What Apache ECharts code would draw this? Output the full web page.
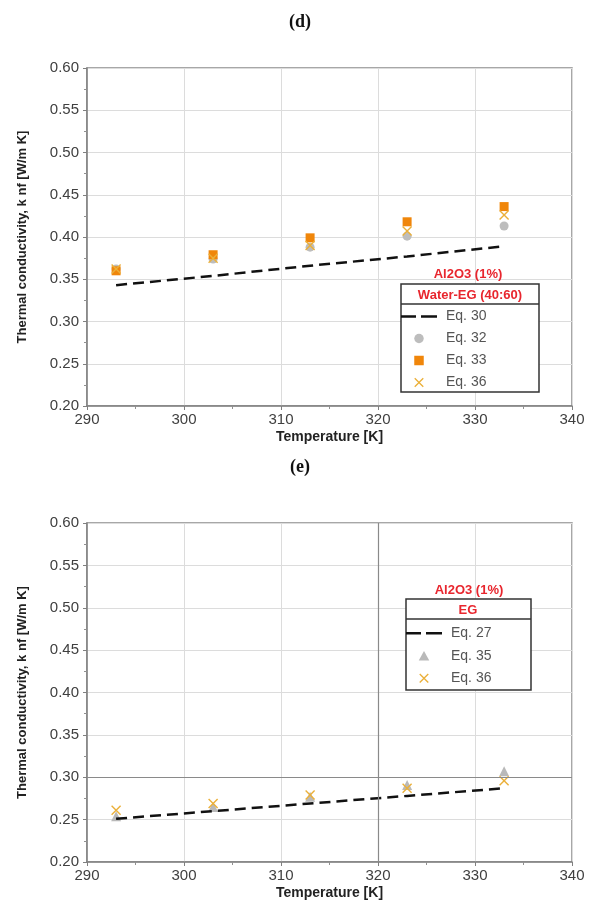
<!DOCTYPE html>
<html><head><meta charset="utf-8">
<script src="https://cdn.jsdelivr.net/npm/echarts@6/dist/echarts.min.js"></script>
<style>html,body{margin:0;padding:0;background:#fff;}#c{width:589px;height:911px;}</style>
</head><body><div id="c"></div>
<script>
// ---- data ----
const temperatures = [293, 303, 313, 323, 333];
const xTicks = [290, 300, 310, 320, 330, 340];
const yTicks = [0.20, 0.25, 0.30, 0.35, 0.40, 0.45, 0.50, 0.55, 0.60];
// (d) Water-EG (40:60)
const d_eq30 = [0.343, 0.354, 0.366, 0.377, 0.389];
const d_eq32 = [0.362, 0.374, 0.388, 0.401, 0.413];
const d_eq33 = [0.360, 0.379, 0.399, 0.418, 0.436];
const d_eq36 = [0.362, 0.375, 0.390, 0.407, 0.426];
// (e) EG
const e_eq27 = [0.251, 0.260, 0.269, 0.278, 0.287];
const e_eq35 = [0.254, 0.265, 0.277, 0.291, 0.307];
const e_eq36 = [0.261, 0.269, 0.279, 0.287, 0.296];

const pair = arr => temperatures.map((t, i) => [t, arr[i]]);
const X_PATH = 'path://M0,1 L1,0 L5,4 L9,0 L10,1 L6,5 L10,9 L9,10 L5,6 L1,10 L0,9 L4,5 Z';
const SQ_PATH = 'path://M0,0 L10,0 L10,10 L0,10 Z';
const TRI_PATH = 'path://M5,0 L10,9 L0,9 Z';
const DASH_PATH = 'path://M0,0 L15,0 L15,2.6 L0,2.6 Z M20,0 L36,0 L36,2.6 L20,2.6 Z';
const FONT = 'Liberation Sans, Arial, sans-serif';
const RED = '#e8262e';
const ORANGE = '#f0860a';
const GOLD = '#ebb03a';
const GRAY = '#bdbdbd';

function xAxisCfg(gi) {
  return {
    gridIndex: gi, type: 'value', min: xTicks[0], max: xTicks[xTicks.length - 1], interval: 10,
    name: 'Temperature [K]', nameLocation: 'middle', nameGap: 24,
    nameTextStyle: { fontFamily: FONT, fontWeight: 'bold', fontSize: 14, color: '#222' },
    axisLine: { show: true, onZero: false, lineStyle: { color: '#808080', width: 1.5 } },
    axisTick: { show: true, inside: false, length: 4, lineStyle: { color: '#808080' } },
    minorTick: { show: true, splitNumber: 2, length: 3, lineStyle: { color: '#909090' } },
    axisLabel: { fontFamily: FONT, fontSize: 15, color: '#404040', margin: 6 },
    splitLine: { show: true, lineStyle: { color: '#dcdcdc', width: 1 } }
  };
}
function yAxisCfg(gi) {
  return {
    gridIndex: gi, type: 'value', min: 0.2, max: 0.6, interval: 0.05,
    name: 'Thermal conductivity, k nf [W/m K]', nameLocation: 'middle', nameGap: 58,
    nameTextStyle: { fontFamily: FONT, fontWeight: 'bold', fontSize: 13, color: '#222' },
    axisLine: { show: true, onZero: false, lineStyle: { color: '#808080', width: 1.5 } },
    axisTick: { show: true, inside: false, length: 4, lineStyle: { color: '#808080' } },
    minorTick: { show: true, splitNumber: 2, length: 3, lineStyle: { color: '#909090' } },
    axisLabel: { fontFamily: FONT, fontSize: 15, color: '#404040', margin: 8,
      formatter: v => v.toFixed(2) },
    splitLine: { show: true, lineStyle: { color: '#dcdcdc', width: 1 } }
  };
}
const dashStyle = { color: '#111', width: 2.5, type: [11, 6] };
const legendText = (lh) => ({ fontFamily: FONT, fontSize: 14, color: '#555', lineHeight: lh, padding: [0, 0, 0, 4] });

const chart = echarts.init(document.getElementById('c'), null, { renderer: 'canvas' });
chart.setOption({
  animation: false,
  backgroundColor: '#fff',
  grid: [
    { left: 87, right: 17, top: 68, height: 338, show: true, borderColor: '#8a8a8a', borderWidth: 1.5 },
    { left: 87, right: 17, top: 523, height: 339, show: true, borderColor: '#8a8a8a', borderWidth: 1.5 }
  ],
  xAxis: [xAxisCfg(0), xAxisCfg(1)],
  yAxis: [yAxisCfg(0), yAxisCfg(1)],
  legend: [
    {
      data: [
        { name: 'Eq. 30', icon: DASH_PATH, itemStyle: { color: '#111' } },
        { name: 'Eq. 32', icon: 'circle' },
        { name: 'Eq. 33', icon: SQ_PATH },
        { name: 'Eq. 36', icon: X_PATH }
      ],
      orient: 'vertical', left: 401, top: 305.5, padding: 0, itemWidth: 36, itemHeight: 9.5, itemGap: 0,
      textStyle: legendText(22), selectedMode: false
    },
    {
      data: [
        { name: 'Eq. 27', icon: DASH_PATH, itemStyle: { color: '#111' } },
        { name: 'Eq. 35', icon: TRI_PATH },
        { name: 'Eq. 36', icon: X_PATH }
      ],
      orient: 'vertical', left: 406, top: 622, padding: 0, itemWidth: 36, itemHeight: 9.5, itemGap: 0,
      textStyle: legendText(22.5), selectedMode: false
    }
  ],
  graphic: [
    { type: 'text', x: 300, y: 22, z: 5, style: { text: '(d)', fill: '#111', font: 'bold 18px Liberation Serif, serif', align: 'center', verticalAlign: 'middle' } },
    { type: 'text', x: 300, y: 467, z: 5, style: { text: '(e)', fill: '#111', font: 'bold 18px Liberation Serif, serif', align: 'center', verticalAlign: 'middle' } },
    { type: 'rect', shape: { x: 401, y: 284, width: 138, height: 108 }, style: { fill: '#fff', stroke: '#333', lineWidth: 1.5 }, z: 3 },
    { type: 'line', shape: { x1: 401, y1: 304, x2: 539, y2: 304 }, style: { stroke: '#333', lineWidth: 1.5 }, z: 4 },
    { type: 'text', x: 470, y: 295, z: 5, style: { text: 'Water-EG (40:60)', fill: RED, font: 'bold 13px ' + FONT, align: 'center', verticalAlign: 'middle' } },
    { type: 'text', x: 468, y: 274, z: 5, style: { text: 'Al2O3 (1%)', fill: RED, font: 'bold 13px ' + FONT, align: 'center', verticalAlign: 'middle' } },
    { type: 'rect', shape: { x: 406, y: 599, width: 125, height: 91 }, style: { fill: '#fff', stroke: '#333', lineWidth: 1.5 }, z: 3 },
    { type: 'line', shape: { x1: 406, y1: 619, x2: 531, y2: 619 }, style: { stroke: '#333', lineWidth: 1.5 }, z: 4 },
    { type: 'text', x: 468, y: 610, z: 5, style: { text: 'EG', fill: RED, font: 'bold 13px ' + FONT, align: 'center', verticalAlign: 'middle' } },
    { type: 'text', x: 469, y: 590, z: 5, style: { text: 'Al2O3 (1%)', fill: RED, font: 'bold 13px ' + FONT, align: 'center', verticalAlign: 'middle' } }
  ],
  series: [
    { name: 'Eq. 30', type: 'line', xAxisIndex: 0, yAxisIndex: 0, data: pair(d_eq30), symbol: 'none', lineStyle: dashStyle, itemStyle: { color: '#111' } },
    { name: 'Eq. 32', type: 'scatter', xAxisIndex: 0, yAxisIndex: 0, data: pair(d_eq32), symbol: 'circle', symbolSize: 9, itemStyle: { color: GRAY, opacity: 1 } },
    { name: 'Eq. 33', type: 'scatter', xAxisIndex: 0, yAxisIndex: 0, data: pair(d_eq33), symbol: 'rect', symbolSize: 9, itemStyle: { color: ORANGE, opacity: 1 } },
    { name: 'Eq. 36', type: 'scatter', xAxisIndex: 0, yAxisIndex: 0, data: pair(d_eq36), symbol: X_PATH, symbolSize: 10, itemStyle: { color: GOLD, opacity: 1 } },
    { name: 'Eq. 27', type: 'line', xAxisIndex: 1, yAxisIndex: 1, data: pair(e_eq27), symbol: 'none', lineStyle: dashStyle, itemStyle: { color: '#111' },
      markLine: { silent: true, symbol: 'none', label: { show: false }, lineStyle: { color: '#8a8a8a', width: 1.2, type: 'solid' },
        data: [{ xAxis: 320 }, { yAxis: 0.30 }] } },
    { name: 'Eq. 35', type: 'scatter', xAxisIndex: 1, yAxisIndex: 1, data: pair(e_eq35), symbol: 'triangle', symbolSize: 10, itemStyle: { color: '#b9b9b9', opacity: 1 } },
    { name: 'Eq. 36', type: 'scatter', xAxisIndex: 1, yAxisIndex: 1, data: pair(e_eq36), symbol: X_PATH, symbolSize: 10, itemStyle: { color: GOLD, opacity: 1 } }
  ]
});
</script></body></html>
